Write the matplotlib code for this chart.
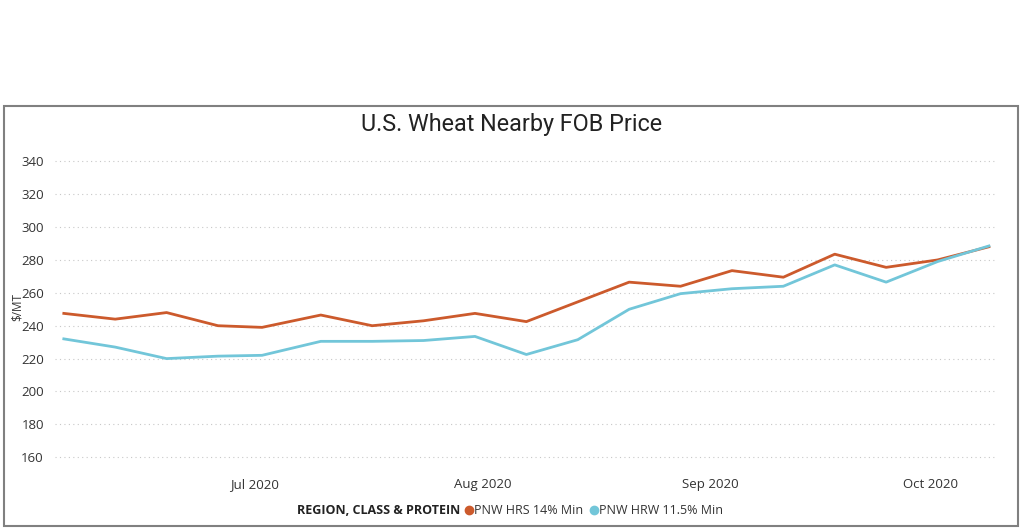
import numpy as np
import matplotlib
matplotlib.use("Agg")
import matplotlib.pyplot as plt
import matplotlib.dates as mdates
from matplotlib.lines import Line2D
from matplotlib.patches import Rectangle

# weekly FOB quotes, $/MT
dates = ["2020-06-05", "2020-06-12", "2020-06-19", "2020-06-26", "2020-07-02",
         "2020-07-10", "2020-07-17", "2020-07-24", "2020-07-31", "2020-08-07",
         "2020-08-14", "2020-08-21", "2020-08-28", "2020-09-04", "2020-09-11",
         "2020-09-18", "2020-09-25", "2020-10-02", "2020-10-09"]
hrs_14 = [247.5, 244, 248, 240, 239, 246.5, 240, 243, 247.5, 242.5,
          254.5, 266.5, 264, 273.5, 269.5, 283.5, 275.5, 280, 288]
hrw_115 = [232, 227, 220, 221.5, 222, 230.5, 230.5, 231, 233.5, 222.5,
           231.5, 250, 259.5, 262.5, 264, 277, 266.5, 279, 288.5]
series_names = ["PNW HRS 14% Min", "PNW HRW 11.5% Min"]
month_ticks = ["2020-07-01", "2020-08-01", "2020-09-01", "2020-10-01"]
y_ticks = [160, 180, 200, 220, 240, 260, 280, 300, 320, 340]

RED = "#CC5A2C"
BLUE = "#72C6D9"
TXT = "#333333"

plt.rcParams["font.family"] = ["Open Sans", "DejaVu Sans"]

W, H = 1024, 529
fig = plt.figure(figsize=(W / 100, H / 100), dpi=100)

# outer frame
fig.patches.append(Rectangle((4 / W, 1 - 526 / H), (1018 - 4) / W, (526 - 106) / H,
                             transform=fig.transFigure, fill=False,
                             edgecolor="#808080", linewidth=1.5))

ax = fig.add_axes([55 / W, 1 - 465.5 / H, (997 - 55) / W, (465.5 - 154.7) / H])

x = mdates.datestr2num(dates)
ax.plot(x, hrs_14, color=RED, linewidth=2, label=series_names[0])
ax.plot(x, hrw_115, color=BLUE, linewidth=2, label=series_names[1])

ax.set_xlim(x[0] - 1.2, x[-1] + 1.1)
ax.set_ylim(155, 344)
ax.set_yticks(y_ticks)
ax.set_xticks(mdates.datestr2num(month_ticks))
ax.xaxis.set_major_formatter(mdates.DateFormatter("%b %Y"))
ax.tick_params(length=0, labelsize=9.5, colors=TXT, pad=8)
ax.tick_params(axis="x", pad=9)
ax.grid(axis="y", linestyle=(0, (1, 3)), color="#C8C8C8", linewidth=0.8)
for s in ax.spines.values():
    s.set_visible(False)

fig.text(17 / W, 1 - 307 / H, "$/MT", rotation=90, ha="center", va="center",
         fontsize=8.5, color=TXT)

fig.text(0.5, 1 - 125 / H, "U.S. Wheat Nearby FOB Price", ha="center", va="center",
         fontsize=16.8, color="#222222", family=["Roboto", "DejaVu Sans"])

# legend along the bottom
fig.text(297 / W, 1 - 511 / H, "REGION, CLASS & PROTEIN", ha="left", va="center",
         fontsize=9, fontweight="bold", color="#222222")
handles = [Line2D([], [], marker="o", linestyle="", color=RED, markersize=6),
           Line2D([], [], marker="o", linestyle="", color=BLUE, markersize=6)]
fig.legend(handles, series_names, loc="center left",
           bbox_to_anchor=(465 / W, 1 - 511 / H), ncol=2, frameon=False,
           handlelength=0.6, handletextpad=0.15, columnspacing=0.5,
           borderaxespad=0, borderpad=0, fontsize=9, labelcolor=TXT)

fig.savefig("out.png", dpi=100)
